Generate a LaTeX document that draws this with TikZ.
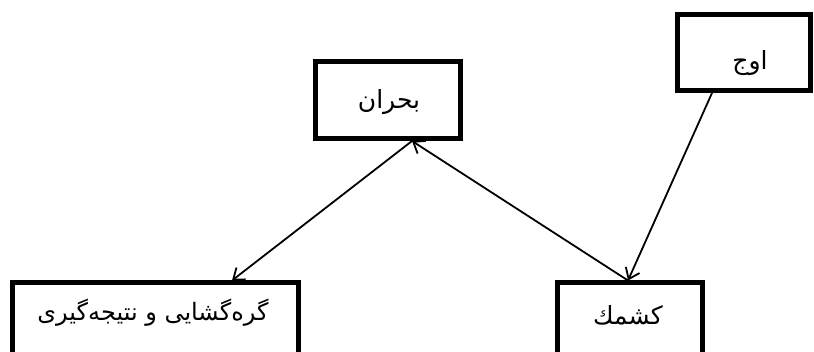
\documentclass[tikz,border=0pt]{standalone}
\usepackage{fontspec}
\newfontfamily\arabicfont[Script=Arabic]{DejaVu Sans}
\TeXXeTstate=1
\usetikzlibrary{arrows.meta,calc}
\begin{document}
\begin{tikzpicture}[x=1pt,y=-1pt,
  box/.style={draw=black,line width=5pt,fill=white,rectangle,inner sep=0pt},
  txt/.style={inner sep=0pt,font=\arabicfont\fontsize{25}{30}\selectfont},
  conn/.style={line width=1.8pt,-{Straight Barb[length=10pt,width=15pt,line width=1.8pt]}}]
\useasboundingbox (0,0) rectangle (814,352);
\clip (0,0) rectangle (814,352);
% boxes
\node[box,minimum width=145pt,minimum height=77pt] (bahran) at (388,100) {};
\node[txt] (bahranT) at (389,102) {\beginR بحران\endR};
\node[box,minimum width=133pt,minimum height=76pt] (ouj) at (744,52.5) {};
\node[txt] (oujT) at (750,63) {\beginR اوج\endR};
\node[box,minimum width=286pt,minimum height=120pt,anchor=north] (gereh) at (155.5,280.5) {};
\node[txt,font=\arabicfont\fontsize{24}{28}\selectfont] (gerehT) at (153,313) {\beginR گره‌گشایی و نتیجه‌گیری\endR};
\node[box,minimum width=145pt,minimum height=120pt,anchor=north] (kesh) at (630,280.5) {};
\node[txt] (keshT) at (628,315) {\beginR کشمك\endR};
% connectors
\draw[conn] ([xshift=24pt]bahran.south) -- ([xshift=76.5pt]gereh.north);
\draw[conn] ([xshift=-2pt]kesh.north) -- ([xshift=24pt]bahran.south);
\draw[conn] ([xshift=-32pt]ouj.south) -- ([xshift=-2pt]kesh.north);
\end{tikzpicture}
\end{document}
